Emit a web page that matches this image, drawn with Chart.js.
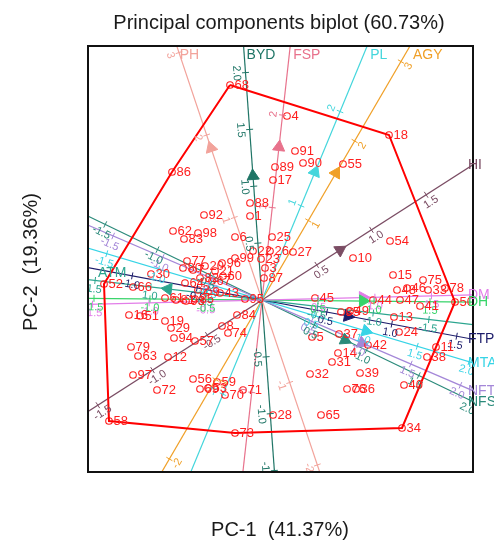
<!DOCTYPE html>
<html>
<head>
<meta charset="utf-8">
<title>Principal components biplot</title>
<script src="https://cdn.jsdelivr.net/npm/chart.js@4.4.1/dist/chart.umd.min.js"></script>
<style>
  html, body { margin: 0; padding: 0; background: #fff; }
  #biplot { display: block; }
</style>
</head>
<body>
<canvas id="biplot" width="494" height="543"></canvas>
<script>
// ===== Data =====
const genotypeIds = [
  1, 2, 3, 4, 5, 6, 7, 8, 9, 10, 11, 12, 13, 14, 15, 16, 17, 18, 19, 20,
  21, 22, 23, 24, 25, 26, 27, 28, 29, 30, 31, 32, 33, 34, 35, 36, 37, 38, 39, 40,
  41, 42, 43, 44, 45, 46, 47, 48, 49, 50, 51, 52, 53, 54, 55, 56, 57, 58, 59, 60,
  61, 62, 63, 64, 65, 66, 67, 68, 69, 70, 71, 72, 73, 74, 75, 76, 77, 78, 79, 80,
  81, 82, 83, 84, 85, 86, 87, 88, 89, 90, 91, 92, 93, 94, 95, 96, 97, 98, 99
];
const pc1Scores = [
  -0.24, -1.28, 0.06, 0.50, 1.00, -0.54, -1.38, -0.80, -1.08, 1.82,
  3.48, -1.88, 2.64, 1.52, 2.62, -2.66, 0.22, 2.54, -1.94, -1.14,
  -0.94, -0.18, -0.02, 2.74, 0.20, 0.16, 0.62, 0.22, -1.82, -2.22,
  1.40, 0.96, 3.32, 2.80, 1.58, 1.88, 1.54, 3.30, 1.96, 2.84,
  3.16, 2.12, -0.84, 2.22, 1.06, 2.90, 2.76, 2.70, 1.76, 3.86,
  -2.44, -3.16, -1.08, 2.56, 1.62, -1.38, -1.34, -3.06, -0.90, -0.78,
  -1.94, -1.78, -2.48, -1.54, 1.18, -2.58, -1.00, -0.64, -1.24, -0.74,
  -0.38, -2.10, -0.54, -0.68, 3.22, 1.70, -1.50, 3.66, -2.62, -1.58,
  -1.72, -1.24, -1.56, -0.50, -1.34, -1.80, 0.04, -0.24, 0.26, 0.82,
  0.66, -1.16, -1.52, -1.76, -0.34, -0.80, -2.58, -1.28, -0.54
];
const pc2Scores = [
  1.68, 0.20, 0.64, 3.68, -0.74, 1.26, 0.60, -0.52, 0.16, 0.84,
  -0.94, -1.14, -0.34, -1.06, 0.50, -0.30, 2.40, 3.30, -0.42, 0.68,
  0.58, 0.98, 0.82, -0.64, 1.26, 0.98, 0.96, -2.30, -0.56, 0.52,
  -1.24, -1.48, 0.20, -2.56, -0.24, -1.78, -0.68, -1.14, -1.46, -1.70,
  -0.12, -0.90, 0.14, 0.00, 0.04, 0.24, 0.00, 0.20, -0.22, -0.04,
  -0.32, 0.32, -1.76, 1.18, 2.72, -1.58, -0.82, -2.42, -1.64, 0.48,
  0.04, 1.38, -1.12, 0.34, -2.30, 0.26, 0.38, 4.30, -1.78, -1.90,
  -1.80, -1.80, -2.66, -0.66, 0.40, -1.78, 0.78, 0.24, -0.94, 0.64,
  0.00, 0.44, 1.22, -0.30, 0.02, 2.56, 0.44, 1.94, 2.66, 2.74,
  2.98, 1.70, -0.02, -0.76, 0.02, 0.74, -1.50, 1.34, 0.84
];
// polygon vertices (genotype ids)
const hullIds = [68, 18, 50, 34, 73, 58, 52, 86, 68];

// trait vectors (arrow position), axis unit length and tick values
const traitNames = ["PH", "BYD", "FSP", "PL", "AGY", "HI", "DM", "DH", "ATM", "FTP", "MTA", "NFT", "NFS"];
const traitPc1 = [-1.02, -0.18, 0.34, 1.06, 1.48, 1.56, 2.02, 2.02, -1.88, 1.72, 2.08, 2.00, 1.66];
const traitPc2 = [3.04, 2.48, 3.06, 2.56, 2.54, 1.00, 0.05, -0.02, 0.22, -0.32, -0.62, -0.86, -0.80];
const traitUnit = [1.74, 2.28, 1.86, 2.04, 1.84, 2.60, 2.26, 2.24, 2.24, 2.64, 2.16, 2.16, 2.32];
const halfTicks = [-1.5, -1.0, -0.5, 0.5, 1.0, 1.5];
const traitTicks = [
  [-2, -1, 1, 2, 3],
  [-1.5, -1.0, -0.5, 0.5, 1.0, 1.5, 2.0],
  [-1, 1, 2],
  [-1, 1, 2],
  [-2, -1, 1, 2, 3],
  halfTicks,
  halfTicks,
  halfTicks,
  halfTicks,
  halfTicks,
  [-1.5, -1.0, -0.5, 0.5, 1.0, 1.5, 2.0],
  [-1.5, -1.0, -0.5, 0.5, 1.0, 1.5, 2.0],
  [-1.5, -1.0, -0.5, 0.5, 1.0, 1.5, 2.0]
];
const tickDecimals = [0, 1, 0, 0, 0, 1, 1, 1, 1, 1, 1, 1, 1];

// ===== Styles =====
const traitColors = ["#f2a39b", "#1f7566", "#e8728c", "#44d6dc", "#f0a028", "#7b4d64", "#e27de8",
                     "#38d46a", "#2ca58f", "#1d1d6b", "#37d4e6", "#a487d8", "#2a8a7a"];
const tickSide = [1, 1, -1, -1, 1, 1, 1, 1, 1, 1, 1, 1, 1];
const FONT = '"Liberation Sans", Arial, sans-serif';
const RED = "#ff1f1f";

// ===== Helpers =====
function unitVector(i) {
  const len = Math.hypot(traitPc1[i], traitPc2[i]);
  return { ux: traitPc1[i] / len, uy: traitPc2[i] / len };
}

const axisDatasets = traitNames.map((name, i) => {
  const { ux, uy } = unitVector(i);
  return {
    label: name,
    data: [{ x: -20 * ux, y: -20 * uy }, { x: 20 * ux, y: 20 * uy }],
    showLine: true,
    borderColor: traitColors[i],
    borderWidth: 1.2,
    pointRadius: 0,
    order: 4
  };
});

// ===== Plugin: ticks, names, labels, frame =====
const biplotDecor = {
  id: "biplotDecor",
  afterDatasetsDraw(chart) {
    const { ctx, chartArea: area, scales: { x, y } } = chart;
    const x0 = x.getPixelForValue(0), y0 = y.getPixelForValue(0);

    // ticks of the trait axes
    ctx.save();
    ctx.beginPath();
    ctx.rect(area.left, area.top, area.width, area.height);
    ctx.clip();
    ctx.font = "11px " + FONT;
    ctx.textAlign = "center";
    ctx.textBaseline = "middle";
    traitNames.forEach((name, i) => {
      const { ux, uy } = unitVector(i);
      const sx = x.getPixelForValue(ux) - x0, sy = y.getPixelForValue(uy) - y0;
      const sl = Math.hypot(sx, sy);
      const dx = sx / sl, dy = sy / sl;
      let ang = Math.atan2(dy, dx);
      if (ang > Math.PI / 2) ang -= Math.PI;
      if (ang <= -Math.PI / 2) ang += Math.PI;
      const nx = -Math.sin(ang) * tickSide[i], ny = Math.cos(ang) * tickSide[i];
      ctx.strokeStyle = traitColors[i];
      ctx.fillStyle = traitColors[i];
      ctx.lineWidth = 1;
      traitTicks[i].forEach(v => {
        const px = x.getPixelForValue(ux * v * traitUnit[i]);
        const py = y.getPixelForValue(uy * v * traitUnit[i]);
        ctx.beginPath();
        ctx.moveTo(px + dy * 3.5, py - dx * 3.5);
        ctx.lineTo(px - dy * 3.5, py + dx * 3.5);
        ctx.stroke();
        ctx.save();
        ctx.translate(px + nx * 9, py + ny * 9);
        ctx.rotate(ang);
        ctx.fillText(v.toFixed(tickDecimals[i]), 0, 0);
        ctx.restore();
      });
    });
    ctx.restore();

    // point labels
    const meta = chart.getDatasetMeta(1);
    ctx.save();
    ctx.font = "13px " + FONT;
    ctx.fillStyle = RED;
    ctx.textAlign = "left";
    ctx.textBaseline = "middle";
    meta.data.forEach((pt, i) => {
      ctx.fillText(String(genotypeIds[i]), pt.x + 4.5, pt.y + 0.5);
    });
    ctx.restore();
  },
  afterDraw(chart) {
    const { ctx, chartArea: area, scales: { x, y } } = chart;
    const x0 = x.getPixelForValue(0), y0 = y.getPixelForValue(0);

    // frame
    ctx.save();
    ctx.strokeStyle = "#111";
    ctx.lineWidth = 2;
    ctx.strokeRect(area.left, area.top, area.width, area.height);

    // trait names at the end of each axis
    ctx.font = "14px " + FONT;
    ctx.textBaseline = "middle";
    ctx.textAlign = "left";
    traitNames.forEach((name, i) => {
      const { ux, uy } = unitVector(i);
      const sx = x.getPixelForValue(ux) - x0, sy = y.getPixelForValue(uy) - y0;
      const tx = sx > 0 ? (area.right - x0) / sx : (area.left - x0) / sx;
      const ty = sy > 0 ? (area.bottom - y0) / sy : (area.top - y0) / sy;
      ctx.fillStyle = traitColors[i];
      if (ty < tx) {
        ctx.fillText(name, x0 + sx * ty + 3, area.top + 9);
      } else if (sx > 0) {
        ctx.fillText(name, area.right - 5, y0 + sy * tx);
      } else {
        ctx.fillText(name, area.left + 10, y0 + sy * tx - 6);
      }
    });

    // titles
    ctx.fillStyle = "#1a1a1a";
    ctx.font = "20px " + FONT;
    ctx.textAlign = "center";
    ctx.fillText("Principal components biplot (60.73%)", 279, 23);
    ctx.fillText("PC-1  (41.37%)", 280, 530);
    ctx.translate(31, 262);
    ctx.rotate(-Math.PI / 2);
    ctx.fillText("PC-2  (19.36%)", 0, 0);
    ctx.restore();
  }
};

// ===== Chart =====
const hullPoints = hullIds.map(id => ({ x: pc1Scores[id - 1], y: pc2Scores[id - 1] }));
const scorePoints = genotypeIds.map((id, i) => ({ x: pc1Scores[i], y: pc2Scores[i] }));
const arrowPoints = traitNames.map((name, i) => ({ x: traitPc1[i], y: traitPc2[i] }));

new Chart(document.getElementById("biplot"), {
  type: "scatter",
  data: {
    datasets: [
      {
        label: "hull",
        data: hullPoints,
        showLine: true,
        borderColor: "#ff0000",
        borderWidth: 2,
        pointRadius: 0,
        order: 0
      },
      {
        label: "genotypes",
        data: scorePoints,
        pointStyle: "circle",
        pointRadius: 3.3,
        borderColor: RED,
        borderWidth: 1.1,
        backgroundColor: "rgba(0,0,0,0)",
        order: 1
      },
      {
        label: "traits",
        data: arrowPoints,
        pointStyle: "triangle",
        pointRadius: 7,
        pointRotation: traitNames.map((n, i) => Math.atan2(traitPc1[i], traitPc2[i]) * 180 / Math.PI),
        backgroundColor: traitColors,
        borderColor: traitColors,
        borderWidth: 1,
        order: 2
      },
      ...axisDatasets
    ]
  },
  options: {
    responsive: false,
    animation: false,
    layout: { padding: { left: 88, top: 46, right: 21, bottom: 71 } },
    plugins: { legend: { display: false }, tooltip: { enabled: false } },
    scales: {
      x: { type: "linear", display: false, min: -3.48, max: 4.22 },
      y: { type: "linear", display: false, min: -3.44, max: 5.08 }
    }
  },
  plugins: [biplotDecor]
});
</script>
</body>
</html>
